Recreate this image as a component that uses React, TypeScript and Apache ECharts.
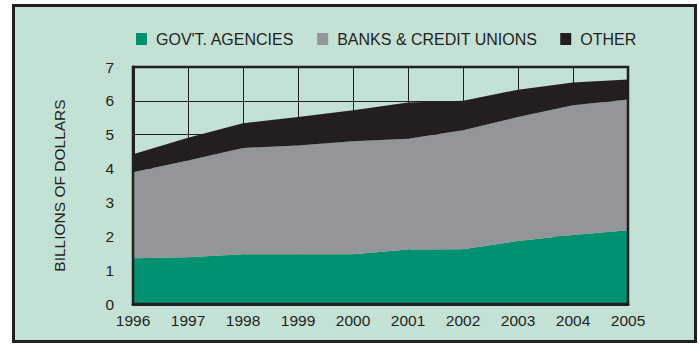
import React, { useEffect, useRef } from "react";
import * as echarts from "echarts";

const years = ["1996", "1997", "1998", "1999", "2000", "2001", "2002", "2003", "2004", "2005"];
const govAgencies = [1.35, 1.38, 1.47, 1.47, 1.47, 1.61, 1.62, 1.86, 2.04, 2.18];
const banksCreditUnions = [2.54, 2.86, 3.14, 3.21, 3.34, 3.27, 3.51, 3.66, 3.83, 3.86];
const other = [0.53, 0.67, 0.73, 0.84, 0.91, 1.07, 0.87, 0.81, 0.67, 0.59];
const seriesNames = ["GOV'T. AGENCIES", "BANKS & CREDIT UNIONS", "OTHER"];
const yTicks = [0, 1, 2, 3, 4, 5, 6, 7];

const DARK = "#231f20";
const BG = "#c4e1d6";
const FONT = "'Liberation Sans', Arial, sans-serif";

export default function App() {
  const ref = useRef<HTMLDivElement>(null);
  useEffect(() => {
    document.body.style.margin = "0";
    const chart = echarts.init(ref.current!, null, { renderer: "svg" });
    const mk = (name: string, data: number[], color: string) => ({
      name,
      type: "line",
      stack: "total",
      data,
      symbol: "none",
      lineStyle: { width: 0 },
      areaStyle: { color, opacity: 1 },
      itemStyle: { color },
      z: 2,
    });
    chart.setOption({
      animation: false,
      graphic: [
        {
          type: "rect",
          shape: { x: 13.5, y: 5.5, width: 682, height: 336 },
          style: { fill: BG, stroke: DARK, lineWidth: 3 },
          z: -10,
          silent: true,
        },
      ],
      legend: {
        left: 131,
        top: 26,
        icon: "rect",
        itemWidth: 11,
        itemHeight: 12,
        itemGap: 23,
        data: seriesNames,
        textStyle: { fontFamily: FONT, fontSize: 16, color: DARK, padding: [0, 0, 0, 4] },
      },
      grid: {
        left: 133,
        right: 71,
        top: 67,
        bottom: 40,
        show: true,
        borderColor: DARK,
        borderWidth: 2.5,
        backgroundColor: "transparent",
        z: 5,
      },
      xAxis: {
        type: "category",
        data: years,
        boundaryGap: false,
        axisLine: { show: true, lineStyle: { color: DARK, width: 3 } },
        axisTick: { show: false },
        axisLabel: { fontFamily: FONT, fontSize: 15.5, color: DARK, margin: 8 },
        splitLine: { show: true, lineStyle: { color: DARK, width: 1 } },
        z: 1,
      },
      yAxis: {
        type: "value",
        min: yTicks[0],
        max: yTicks[yTicks.length - 1],
        interval: 1,
        name: "BILLIONS OF DOLLARS",
        nameLocation: "middle",
        nameGap: 66,
        nameRotate: 90,
        nameTextStyle: { fontFamily: FONT, fontSize: 15.5, color: DARK },
        axisLine: { show: true, lineStyle: { color: DARK, width: 3 } },
        axisTick: { show: false },
        axisLabel: { fontFamily: FONT, fontSize: 15.5, color: DARK, margin: 19 },
        splitLine: { show: true, lineStyle: { color: DARK, width: 1 } },
        z: 1,
      },
      series: [
        mk(seriesNames[0], govAgencies, "#009270"),
        mk(seriesNames[1], banksCreditUnions, "#939598"),
        mk(seriesNames[2], other, DARK),
      ],
    });
    return () => chart.dispose();
  }, []);
  return <div ref={ref} style={{ width: 699, height: 344, position: "absolute", left: 0, top: 0 }} />;
}
